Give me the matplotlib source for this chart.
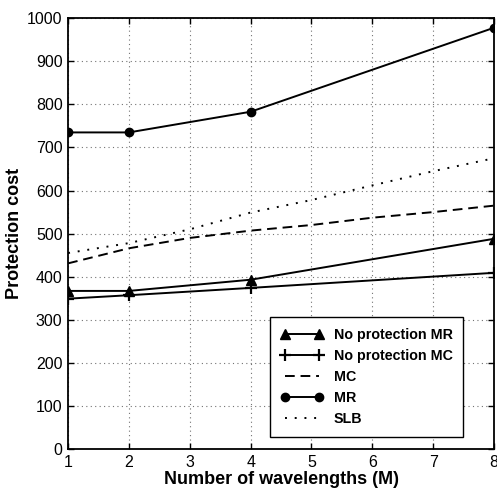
import matplotlib
matplotlib.use("Agg")
import matplotlib.pyplot as plt

plt.rcParams['font.family'] = ['Liberation Sans', 'DejaVu Sans']

# Data
m_all = [1, 2, 3, 4, 5, 6, 7, 8]
m_pts = [1, 2, 4, 8]
mr = [735, 735, 783, 978]
np_mr = [367, 367, 393, 488]
np_mc = [349, 357, 374, 409]
mc = [431, 466, 490, 507, 520, 537, 550, 565]
slb = [455, 478, 510, 549, 578, 612, 645, 675]
x_ticks = [1, 2, 3, 4, 5, 6, 7, 8]
y_ticks = [0, 100, 200, 300, 400, 500, 600, 700, 800, 900, 1000]

fig = plt.figure(figsize=(4.97, 4.90), dpi=100)
ax = fig.add_axes([0.137, 0.0837, 0.857, 0.879])

ax.plot(m_pts, np_mr, color='black', lw=1.4, marker='^', ms=7, label='No protection MR')
ax.plot(m_pts, np_mc, color='black', lw=1.4, marker='+', ms=8, mew=1.6, label='No protection MC')
ax.plot(m_all, mc, color='black', lw=1.4, linestyle=(0, (5, 3)), label='MC')
ax.plot(m_pts, mr, color='black', lw=1.4, marker='o', ms=6, label='MR')
ax.plot(m_all, slb, color='black', lw=1.4, linestyle=(0, (1, 4)), label='SLB')

ax.set_xlim(1, 8)
ax.set_ylim(0, 1000)
ax.set_xticks(x_ticks)
ax.set_yticks(y_ticks)
ax.tick_params(direction='in', top=True, right=True, labelsize=11.5, length=4, width=1, pad=4)
ax.grid(True, linestyle=(0, (1, 3)), color='0.45', lw=0.8)
for s in ax.spines.values():
    s.set_linewidth(1.3)

ax.set_xlabel('Number of wavelengths (M)', fontsize=13, fontweight='bold', labelpad=1)
ax.set_ylabel('Protection cost', fontsize=13, fontweight='bold', labelpad=3)

leg = ax.legend(loc='lower left', bbox_to_anchor=(0.474, 0.028, 0.453, 0.276), mode='expand',
                numpoints=2, handlelength=3.0, frameon=True, fancybox=False,
                borderaxespad=0, labelspacing=0.5, handletextpad=0.7, borderpad=0.75,
                prop={'weight': 'bold', 'size': 10.3})
leg.get_frame().set_edgecolor('black')
leg.get_frame().set_linewidth(1.0)
leg.get_frame().set_alpha(1)

fig.savefig('out.png', dpi=100)
